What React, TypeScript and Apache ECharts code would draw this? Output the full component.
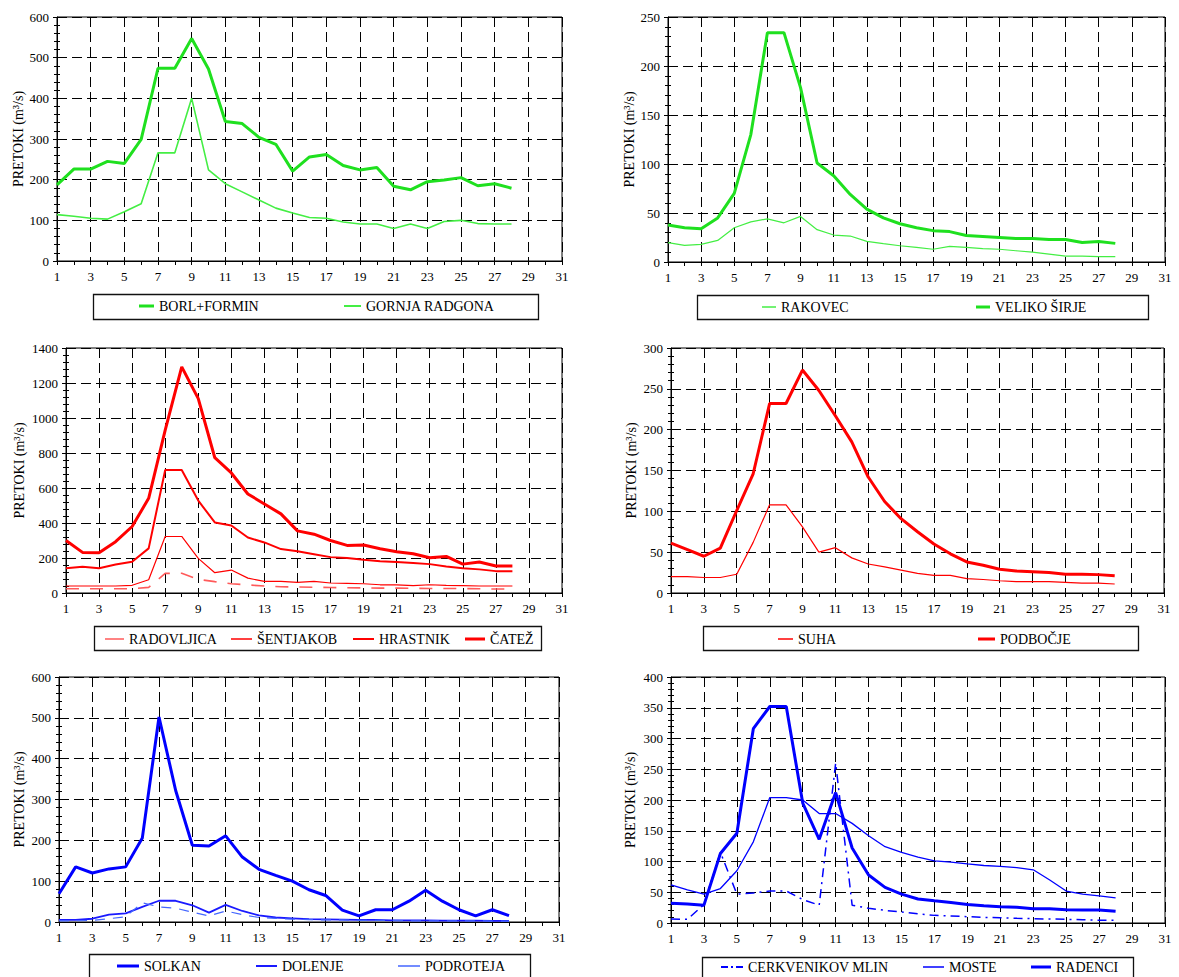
import React, { useEffect, useRef } from 'react';
import * as echarts from 'echarts';

// ---------- data ----------
const DAYS = ['1','2','3','4','5','6','7','8','9','10','11','12','13','14','15','16','17','18','19','20','21','22','23','24','25','26','27','28','29','30','31'];

const borlFormin = [187,226,226,245,240,299,474,474,547,472,343,338,304,287,221,256,262,235,224,230,184,175,195,199,205,185,190,179];
const gornjaRadgona = [114,110,105,103,121,141,266,266,400,224,190,170,150,130,118,107,105,96,91,91,80,91,80,97,100,92,91,91];

const rakovec = [19.7,17,18,22,35,41,44,40,46.5,33,27.5,26.5,21,18.7,16.6,15,13,16,15,13.6,13,11.5,10,8,6,6,5.5,5.5];
const velikoSirje = [37.7,35,34,45,70,130,234,234,178,101,88,69,54,45,39,35,32,31,27,26,25,24,24,23,23,20,21,19];

const radovljica = [24,24,24,24,25,32,112,113,78,65,53,46,40,36,34,33,31,30,29,28,28,27,26,26,25,24,23,22];
const sentjakob = [40,40,40,40,44,76,323,323,198,116,131,85,66,66,61,66,57,55,53,47,46,42,47,44,42,40,40,40];
const hrastnik = [142,150,142,163,179,255,703,703,528,403,386,317,289,251,239,222,205,200,190,182,177,171,165,152,141,135,125,125];
const catez = [300,232,230,293,380,541,931,1292,1111,773,686,566,509,452,355,336,300,272,274,253,236,224,201,209,165,177,154,154];

const suha = [20,20,19,19,23,62,108,108,81,50,55.5,43,35.5,32,28,24,21.5,21.5,17.5,16.5,15,14,14,14,13,12,12,11];
const podbocje = [61,53,45,55,101,146,232,232,273,248,217,185,142,112,91,75,60,48,38,34,29,27,26,25,23,23,22.5,21];

const solkan = [69,135,120,130,135,206,502,322,188,186,211,159,129,114,100,79,65,29,15,30,30,51,78,51,30,15,30,15.5];
const dolenje = [5,5,8,18,21,37,52,52,41,23,42,27,16,11,9,7,6.5,6,5,5,4,4,4,3.5,3.5,3.5,3,3];
const podroteja = [3,3,4,8,13,47,37,34,24,15,27,18,11,9,7,6,5,5,4,4,4,3,3,3,3,3,2,2];

const cerkvenikovMlin = [6.5,6,30,115,47,48.6,52,52,38,29,260,29,24,20.5,18,15,12.4,11.4,10.3,9.2,8.6,7.6,7,6.5,6,5.4,4.3,4.3];
const moste = [62,54,47,56,85,132,204,204,200,178,178,162,142,124,115,107,101,99,96,93.5,92,90,86.5,70,52,47,44,41];
const radenci = [32,31,29,113,146,316,352,352,195,136,212,122,78,58,47,39,36,33.5,30,28,26.5,25.5,23,23,21.6,21,21,19];

const Y_MAX = [600, 250, 1400, 300, 600, 400];
const Y_INTERVAL = [100, 50, 200, 50, 100, 50];
const Y_NAME = 'PRETOKI (m³/s)';

// ---------- layout ----------
const FONT = 'Liberation Serif';

const PANELS = [
  { left: 57, top: 17, width: 505, height: 244, nameGap: 32, box: [93, 294, 445, 25] },
  { left: 668, top: 17, width: 497, height: 245, nameGap: 32, box: [697, 295, 451, 24] },
  { left: 66, top: 348, width: 496, height: 245, nameGap: 40, box: [94, 626, 447, 24] },
  { left: 671, top: 348, width: 493, height: 245, nameGap: 33, box: [703, 626, 435, 24] },
  { left: 59, top: 677, width: 500, height: 245, nameGap: 33, box: [89, 954, 441, 26] },
  { left: 671, top: 677, width: 494, height: 246, nameGap: 34, box: [702, 957, 431, 26] },
];

const GREEN_THICK = '#1fe01f';
const GREEN_THIN = '#44ee44';
const RED = '#ff0000';
const RED_LIGHT = '#ff5a5a';
const BLUE = '#0000ff';
const BLUE_MED = '#1a1aff';
const BLUE_LIGHT = '#4466ff';

const DASHDOT_ICON = 'path://M0,0H7V2H0Z M10,0H12V2H10Z M15,0H22V2H15Z';

type S = { name: string; panel: number; data: number[]; color: string; width: number; type?: any; lx: number; ly: number; lw: number; lh: number; icon?: string };

const SERIES: S[] = [
  { name: 'BORL+FORMIN', panel: 0, data: borlFormin, color: GREEN_THICK, width: 3, lx: 139, ly: 306, lw: 15, lh: 3 },
  { name: 'GORNJA RADGONA', panel: 0, data: gornjaRadgona, color: GREEN_THIN, width: 1.6, lx: 344, ly: 306, lw: 17, lh: 2 },
  { name: 'RAKOVEC', panel: 1, data: rakovec, color: GREEN_THIN, width: 1.2, lx: 762, ly: 307, lw: 14, lh: 1.5 },
  { name: 'VELIKO ŠIRJE', panel: 1, data: velikoSirje, color: GREEN_THICK, width: 3, lx: 976, ly: 307, lw: 14, lh: 3 },
  { name: 'RADOVLJICA', panel: 2, data: radovljica, color: RED_LIGHT, width: 1.6, type: [13, 11], lx: 105, ly: 639, lw: 19, lh: 1.5 },
  { name: 'ŠENTJAKOB', panel: 2, data: sentjakob, color: RED, width: 1.2, lx: 231, ly: 639, lw: 21, lh: 1.5 },
  { name: 'HRASTNIK', panel: 2, data: hrastnik, color: RED, width: 2, lx: 353, ly: 639, lw: 21, lh: 2 },
  { name: 'ČATEŽ', panel: 2, data: catez, color: RED, width: 3, lx: 465, ly: 639, lw: 20, lh: 3 },
  { name: 'SUHA', panel: 3, data: suha, color: RED, width: 1.2, lx: 778, ly: 639, lw: 15, lh: 1.5 },
  { name: 'PODBOČJE', panel: 3, data: podbocje, color: RED, width: 3, lx: 978, ly: 639, lw: 17, lh: 3 },
  { name: 'SOLKAN', panel: 4, data: solkan, color: BLUE, width: 3, lx: 117, ly: 966, lw: 22, lh: 3 },
  { name: 'DOLENJE', panel: 4, data: dolenje, color: BLUE_MED, width: 1.8, lx: 256, ly: 966, lw: 21, lh: 2 },
  { name: 'PODROTEJA', panel: 4, data: podroteja, color: BLUE_LIGHT, width: 1.2, type: [10, 8], lx: 398, ly: 966, lw: 22, lh: 1.5 },
  { name: 'CERKVENIKOV MLIN', panel: 5, data: cerkvenikovMlin, color: BLUE, width: 1.5, type: [9, 5, 2, 5], lx: 721, ly: 967, lw: 22, lh: 2, icon: DASHDOT_ICON },
  { name: 'MOSTE', panel: 5, data: moste, color: BLUE, width: 1.3, lx: 923, ly: 967, lw: 21, lh: 1.5 },
  { name: 'RADENCI', panel: 5, data: radenci, color: BLUE, width: 3, lx: 1031, ly: 967, lw: 20, lh: 3 },
];

const GRID_DASH = [10, 5];

export default function App() {
  const ref = useRef<HTMLDivElement>(null);

  useEffect(() => {
    if (!ref.current) return;
    const chart = echarts.init(ref.current, undefined, { renderer: 'svg' });

    const grid = PANELS.map((p) => ({
      left: p.left, top: p.top, width: p.width, height: p.height,
      show: true, borderColor: '#000', borderWidth: 1, backgroundColor: 'transparent',
    }));

    const xAxis = PANELS.map((_, i) => ({
      gridIndex: i,
      type: 'category',
      data: DAYS,
      boundaryGap: false,
      axisLine: { show: true, lineStyle: { color: '#000', width: 1 } },
      axisTick: { show: true, interval: 0, length: 4, lineStyle: { color: '#000' } },
      axisLabel: { interval: 1, color: '#000', fontFamily: FONT, fontSize: 13, margin: 9 },
      splitLine: { show: true, interval: 1, lineStyle: { color: '#000', width: 1, type: GRID_DASH } },
    }));

    const yAxis: any[] = [];
    PANELS.forEach((p, i) => {
      yAxis.push({
        gridIndex: i,
        type: 'value',
        position: 'left',
        min: 0,
        max: Y_MAX[i],
        interval: Y_INTERVAL[i],
        name: Y_NAME,
        nameLocation: 'middle',
        nameGap: p.nameGap,
        nameRotate: 90,
        nameTextStyle: { fontFamily: FONT, fontSize: 14, color: '#000' },
        axisLine: { show: true, lineStyle: { color: '#000', width: 1 } },
        axisTick: { show: true, length: 4, lineStyle: { color: '#000' } },
        minorTick: { show: true, splitNumber: 5, length: 3, lineStyle: { color: '#000' } },
        axisLabel: { color: '#000', fontFamily: FONT, fontSize: 13, margin: 8, formatter: (v: number) => String(v) },
        splitLine: { show: true, lineStyle: { color: '#000', width: 1, type: GRID_DASH } },
      });
      yAxis.push({
        gridIndex: i,
        type: 'value',
        position: 'left',
        min: 0,
        max: Y_MAX[i],
        interval: Y_INTERVAL[i],
        axisLine: { show: false },
        axisTick: { show: true, inside: true, length: 4, lineStyle: { color: '#000' } },
        minorTick: { show: true, splitNumber: 5, length: 3, lineStyle: { color: '#000' } },
        axisLabel: { show: false },
        splitLine: { show: false },
      });
    });

    const series = SERIES.map((s) => ({
      type: 'line',
      name: s.name,
      xAxisIndex: s.panel,
      yAxisIndex: s.panel * 2,
      data: s.data,
      symbol: 'none',
      showSymbol: false,
      color: s.color,
      itemStyle: { color: s.color },
      lineStyle: { color: s.color, width: s.width, type: s.type || 'solid' },
      silent: true,
    }));

    const legend = SERIES.map((s) => ({
      data: [s.name],
      left: s.lx,
      top: s.ly - 7,
      orient: 'horizontal',
      padding: 0,
      selectedMode: false,
      icon: s.icon || 'rect',
      itemWidth: s.lw,
      itemHeight: s.lh,
      textStyle: { fontFamily: FONT, fontSize: 14, color: '#000', lineHeight: 14 },
    }));

    const graphic = PANELS.map((p) => ({
      type: 'rect',
      silent: true,
      shape: { x: p.box[0] + 0.5, y: p.box[1] + 0.5, width: p.box[2], height: p.box[3] },
      style: { fill: 'none', stroke: '#111', lineWidth: 1.3 },
    }));

    chart.setOption({
      animation: false,
      backgroundColor: '#fff',
      textStyle: { fontFamily: FONT },
      grid,
      xAxis,
      yAxis,
      series,
      legend,
      graphic,
    } as any);

    return () => chart.dispose();
  }, []);

  return (
    <div
      ref={ref}
      style={{ position: 'absolute', left: 0, top: 0, width: 1179, height: 977 }}
    />
  );
}
